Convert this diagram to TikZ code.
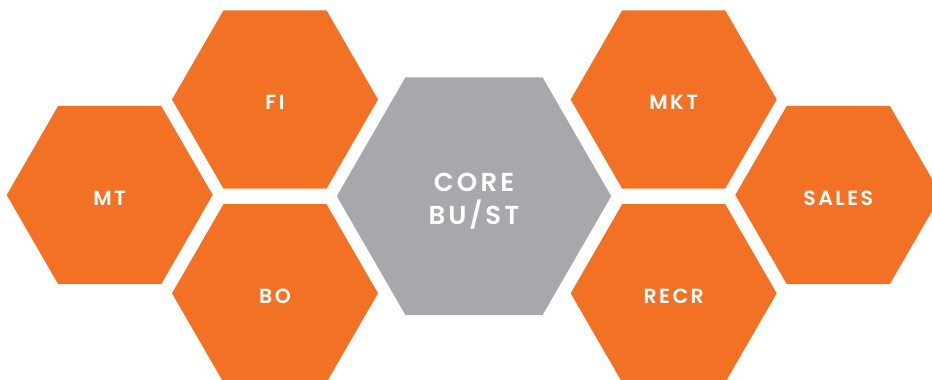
\documentclass[tikz,border=0pt]{standalone}
\usepackage{fontspec}
\usetikzlibrary{shapes.geometric}
\newfontfamily\hexfont[LetterSpace=12,BoldFont={Poppins SemiBold}]{Poppins}
\definecolor{hexorange}{HTML}{F37124}
\definecolor{coregray}{HTML}{A7A8AB}
\newcommand\lowered[2]{\raisebox{-#1}[\height][\depth]{#2}}
\begin{document}
\begin{tikzpicture}
  [x=1pt,y=-1pt,every node/.style={regular polygon,regular polygon sides=6,inner sep=0pt,text=white}]
  \tikzstyle{hex} = [fill=hexorange,minimum size=206pt,font=\hexfont\bfseries\fontsize{20.5}{24}\selectfont]
  \tikzstyle{core} = [fill=coregray,minimum size=274.4pt,align=center,font=\hexfont\bfseries\fontsize{26}{33}\selectfont]
  \useasboundingbox (0,0) rectangle (932,380);
  \clip (0,0) rectangle (932,380);
  \node[core] (core) at (474,196.2) {\lowered{5pt}{CORE}\\\lowered{5pt}{BU/ST}};
\foreach \name/\x/\y/\txt in {mt/109.7/195/MT,fi/275/99.5/FI,bo/275/293.3/BO,mkt/673.7/99.5/MKT,recr/673.7/293.3/RECR,sales/838.3/195/SALES}
   \node[hex] (\name) at (\x,\y) {\lowered{3pt}{\txt}};
\end{tikzpicture}
\end{document}
